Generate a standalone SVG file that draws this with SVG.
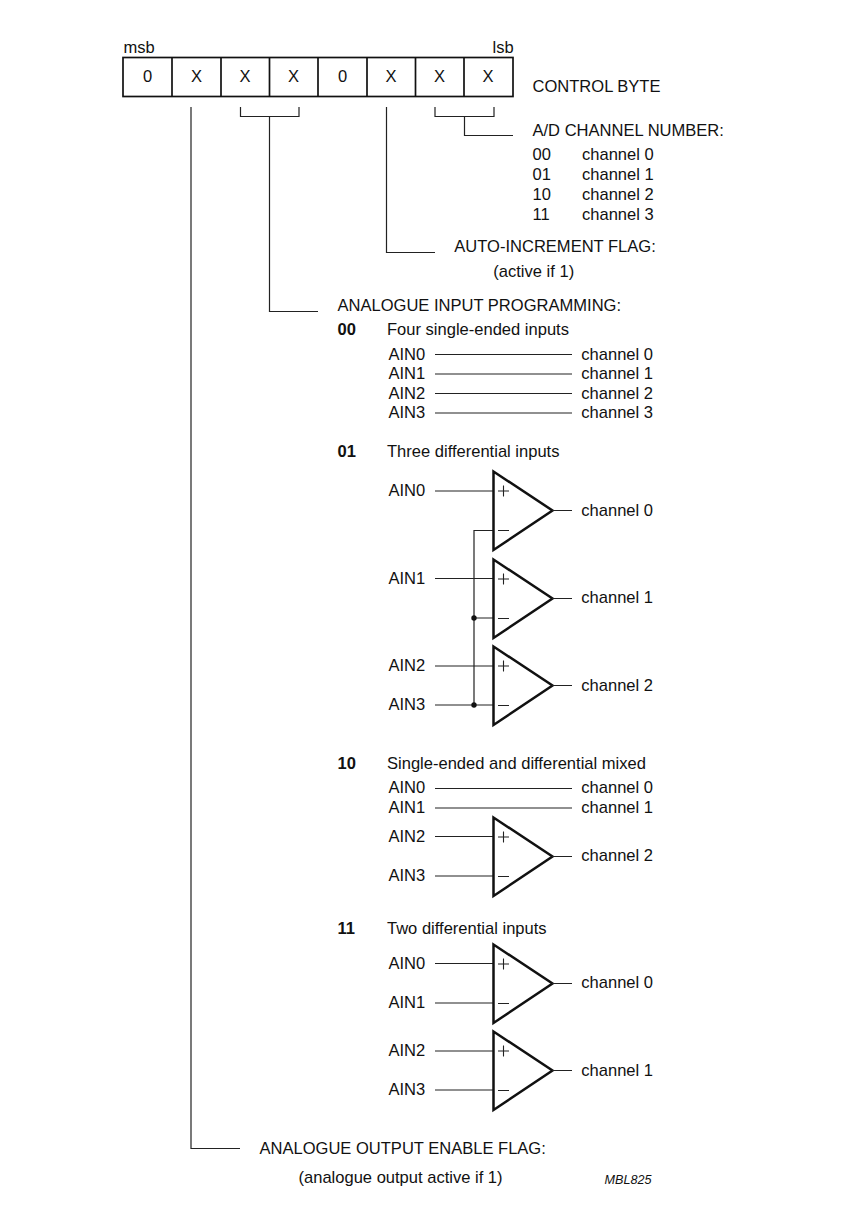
<svg xmlns="http://www.w3.org/2000/svg" width="843" height="1218" viewBox="0 0 843 1218">
<style>
text{font-family:"Liberation Sans",Arial,sans-serif;font-size:16.55px;fill:#111}
.b{font-weight:bold}
.m{text-anchor:middle}
.sm{font-size:12.6px;font-style:italic}
.l{fill:none;stroke:#222;stroke-width:1.2}
.box{fill:#fff;stroke:#111;stroke-width:1.7}
.tri{fill:none;stroke:#111;stroke-width:2.5;stroke-linejoin:miter}
.s{fill:none;stroke:#222;stroke-width:1.1}
</style>
<defs>
<g id="amp">
<path class="tri" d="M493.500 0.500V79L552.500 39.500Z"/>
<path class="s" d="M498 20H509M503.500 14.500V25.500M498 59.500H509M552 39.500H572"/>
</g>
</defs>
<rect width="843" height="1218" fill="#fff"/>
<g id="control-byte">
<rect class="box" x="123" y="57.500" width="390" height="39"/>
<path class="box" d="M172 57.500V96.500M221 57.500V96.500M269.500 57.500V96.500M318 57.500V96.500M367 57.500V96.500M415.500 57.500V96.500M464 57.500V96.500"/>
<text x="123.500" y="53">msb</text><text x="492.500" y="53">lsb</text>
<text class="m" x="147.500" y="82">0</text><text class="m" x="196.500" y="82">X</text><text class="m" x="245" y="82">X</text><text class="m" x="293.500" y="82">X</text><text class="m" x="342.500" y="82">0</text><text class="m" x="391" y="82">X</text><text class="m" x="439.500" y="82">X</text><text class="m" x="488" y="82">X</text>
<text x="532.500" y="92">CONTROL BYTE</text>
</g>
<g id="connectors">
<path class="l" d="M191 107V1148.500H240"/>
<path class="l" d="M240.500 107V116.500H299V107M269.500 116.500V311.500H318"/>
<path class="l" d="M386.500 107V252.500H435"/>
<path class="l" d="M435 107V116.500H494V107M464.500 116.500V135.500H513"/>
<path class="l" d="M435 354.500H572M435 374H572M435 393.500H572M435 413H572"/>
<path class="l" d="M435 491H493M493 530.500H474V705M435 578.500H493M474 618H493M435 666H493M435 705H493"/>
<circle cx="474" cy="618" r="2.700" fill="#111"/><circle cx="474" cy="705" r="2.700" fill="#111"/>
<path class="l" d="M435 788.500H572M435 808H572M435 836.500H493M435 876H493"/>
<path class="l" d="M435 963.500H493M435 1003H493M435 1051H493M435 1090H493"/>
</g>
<g id="channel-number">
<text x="532.500" y="136">A/D CHANNEL NUMBER:</text>
<text x="532.500" y="160">00</text><text x="582" y="160">channel 0</text>
<text x="532.500" y="180">01</text><text x="582" y="180">channel 1</text>
<text x="532.500" y="200">10</text><text x="582" y="200">channel 2</text>
<text x="532.500" y="220">11</text><text x="582" y="220">channel 3</text>
</g>
<g id="auto-increment">
<text x="454.300" y="252">AUTO-INCREMENT FLAG:</text>
<text x="493.300" y="277">(active if 1)</text>
</g>
<g id="input-programming">
<text x="337.500" y="311">ANALOGUE INPUT PROGRAMMING:</text>
<text class="b" x="337.500" y="335">00</text><text x="387" y="335">Four single-ended inputs</text>
<text x="388.500" y="360">AIN0</text><text x="581.300" y="360">channel 0</text>
<text x="388.500" y="379">AIN1</text><text x="581.300" y="379">channel 1</text>
<text x="388.500" y="399">AIN2</text><text x="581.300" y="399">channel 2</text>
<text x="388.500" y="418">AIN3</text><text x="581.300" y="418">channel 3</text>
</g>
<g id="mode-01">
<text class="b" x="337.500" y="457">01</text><text x="387" y="457">Three differential inputs</text>
<use href="#amp" y="471"/><use href="#amp" y="559"/><use href="#amp" y="646"/>
<text x="388.500" y="496">AIN0</text><text x="388.500" y="584">AIN1</text><text x="388.500" y="671">AIN2</text><text x="388.500" y="710">AIN3</text>
<text x="581.300" y="516">channel 0</text><text x="581.300" y="603">channel 1</text><text x="581.300" y="691">channel 2</text>
</g>
<g id="mode-10">
<text class="b" x="337.500" y="769">10</text><text x="387" y="769">Single-ended and differential mixed</text>
<text x="388.500" y="793">AIN0</text><text x="581.300" y="793">channel 0</text>
<text x="388.500" y="813">AIN1</text><text x="581.300" y="813">channel 1</text>
<use href="#amp" y="817"/>
<text x="388.500" y="842">AIN2</text><text x="388.500" y="881">AIN3</text><text x="581.300" y="861">channel 2</text>
</g>
<g id="mode-11">
<text class="b" x="337.500" y="934">11</text><text x="387" y="934">Two differential inputs</text>
<use href="#amp" y="944"/><use href="#amp" y="1031"/>
<text x="388.500" y="969">AIN0</text><text x="388.500" y="1008">AIN1</text><text x="581.300" y="988">channel 0</text>
<text x="388.500" y="1056">AIN2</text><text x="388.500" y="1095">AIN3</text><text x="581.300" y="1076">channel 1</text>
</g>
<g id="output-enable">
<text x="259.500" y="1154">ANALOGUE OUTPUT ENABLE FLAG:</text>
<text x="298.500" y="1183">(analogue output active if 1)</text>
<text class="sm" x="604.500" y="1184">MBL825</text>
</g>
</svg>
